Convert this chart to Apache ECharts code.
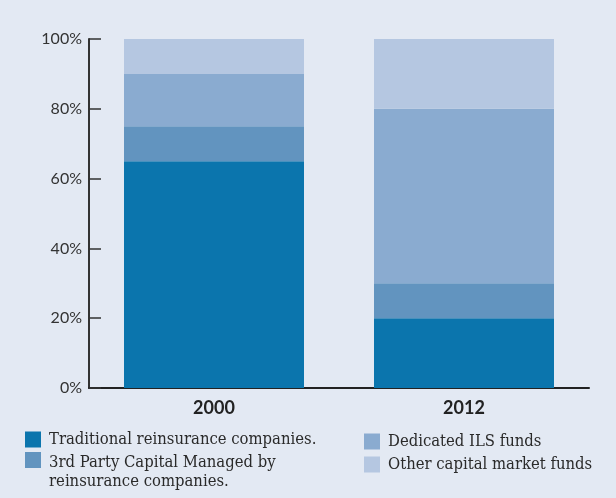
<!DOCTYPE html>
<html>
<head>
<meta charset="utf-8">
<script src="https://cdn.jsdelivr.net/npm/echarts@6/dist/echarts.min.js"></script>
<style>
html,body{margin:0;padding:0;background:#e3e9f3;}
#c{width:616px;height:498px;}
</style>
</head>
<body>
<div id="c"></div>
<script>
const categories = ['2000', '2012'];
const traditional = [65, 20];
const thirdParty = [10, 10];
const dedicatedILS = [15, 50];
const otherCapital = [10, 20];
const yTicks = [0, 20, 40, 60, 80, 100];

const names = [
  'Traditional reinsurance companies.',
  '3rd Party Capital Managed by\nreinsurance companies.',
  'Dedicated ILS funds',
  'Other capital market funds'
];
const colors = ['#0b75ad', '#6294bf', '#8aabd0', '#b5c7e1'];
const values = [traditional, thirdParty, dedicatedILS, otherCapital];

const chart = echarts.init(document.getElementById('c'));
const legendText = {fontFamily: "'DejaVu Serif Condensed', 'Liberation Serif', serif", fontSize: 16.5, color: '#2a2a2a', lineHeight: 19, padding: [0, 0, 0, 3]};
const topIcon = 'path://M0,0L16,0L16,16L0,16Z M0,41L16,41L16,41.01L0,41.01Z';
chart.setOption({
  backgroundColor: '#e3e9f3',
  animation: false,
  color: colors,
  grid: {left: 89, right: 27, top: 39, bottom: 110},
  legend: [
    {data: [names[0]], left: 25, top: 430, orient: 'vertical', itemWidth: 16, itemHeight: 16, icon: 'rect', textStyle: legendText, padding: 0},
    {data: [names[1]], left: 25, top: 452, orient: 'vertical', itemWidth: 16, itemHeight: 41, icon: topIcon, textStyle: legendText, padding: 0},
    {data: [names[2], names[3]], left: 364, top: 432, orient: 'vertical', itemWidth: 16, itemHeight: 16, itemGap: 4, icon: 'rect', textStyle: legendText, padding: 0}
  ],
  xAxis: {
    type: 'category', data: categories,
    axisLine: {show: true, lineStyle: {color: '#222', width: 2}},
    axisTick: {show: false},
    axisLabel: {fontFamily: 'Lato', fontWeight: 'bold', fontSize: 18, color: '#222', margin: 11}
  },
  yAxis: {
    type: 'value', min: 0, max: 100, interval: 20,
    axisLine: {show: true, lineStyle: {color: '#333', width: 2}},
    axisTick: {show: true, inside: true, length: 12, lineStyle: {color: '#333', width: 1.5}},
    splitLine: {show: false},
    axisLabel: {formatter: v => yTicks.includes(v) ? v + '%' : '', fontFamily: 'Lato', fontSize: 16, color: '#333', margin: 7}
  },
  series: names.map((n, i) => ({
    name: n, type: 'bar', stack: 'total', barWidth: 180,
    data: values[i], itemStyle: {color: colors[i]}
  }))
});
</script>
</body>
</html>
